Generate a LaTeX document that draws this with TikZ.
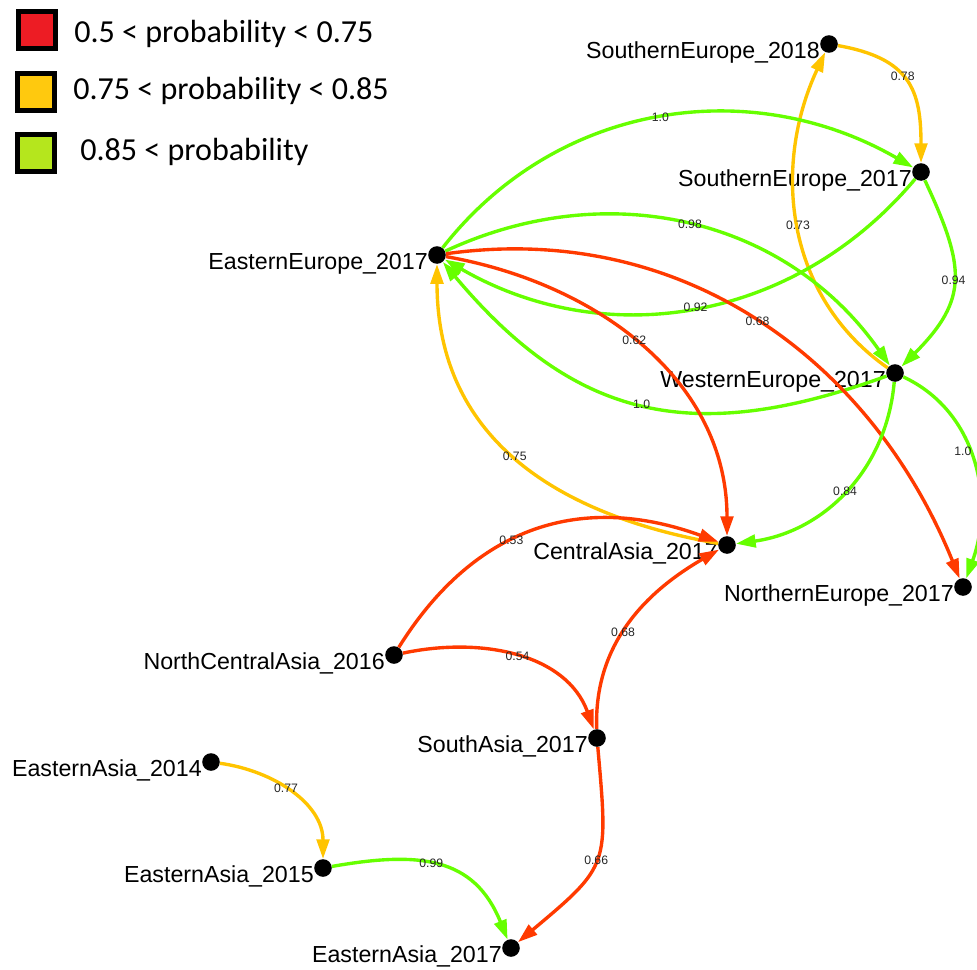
\documentclass[tikz,border=0pt]{standalone}
\usepackage{fontspec}
\setmainfont{Liberation Sans}
\newfontfamily\legendfont{Carlito}
\usetikzlibrary{arrows.meta}

\definecolor{legred}{HTML}{ED1C24}
\definecolor{legyellow}{HTML}{FFC90E}
\definecolor{leggreen}{HTML}{B5E61D}
\definecolor{linkred}{HTML}{FF3A00}
\definecolor{linkyellow}{HTML}{FFC400}
\definecolor{linkgreen}{HTML}{66FF00}

\begin{document}
\begin{tikzpicture}[x=0.025cm, y=-0.025cm,
    region/.style={circle, fill=black, inner sep=0pt, minimum size=12.5pt},
    tag/.style={anchor=base east, inner sep=0pt, font=\fontsize{16.5}{18}\selectfont},
    link/.style={line width=2.4pt, -{Triangle[length=14pt, width=9pt]}},
    prob/.style={inner sep=0pt, font=\fontsize{8.7}{9}\selectfont, text=black!85},
    keybox/.style={draw=black, line width=0.14cm, minimum size=0.925cm, inner sep=0pt},
    keytext/.style={anchor=base west, inner sep=0pt, font=\legendfont\fontsize{22.8}{26}\selectfont}]
                    \useasboundingbox (0,0) rectangle (977,969);
                    \clip (0,0) rectangle (977,969);
                    % Legend
                    \node[keybox, fill=legred] (key1) at (37,30) {};
                    \node[keybox, fill=legyellow] (key2) at (36,92) {};
                    \node[keybox, fill=leggreen] (key3) at (36,153) {};
                    \node[keytext] (key1-t) at (74,42) {0.5 < probability < 0.75};
                    \node[keytext] (key2-t) at (73,99) {0.75 < probability < 0.85};
                    \node[keytext] (key3-t) at (80,160) {0.85 < probability};
                    % Regions
                    \node[region] (se18) at (829,44) {};
                    \node[region] (se17) at (921,172) {};
                    \node[region] (ee17) at (437,255) {};
                    \node[region] (we17) at (895,373) {};
                    \node[region] (ca17) at (727,545) {};
                    \node[region] (ne17) at (963,587) {};
                    \node[region] (nca16) at (394,655) {};
                    \node[region] (sa17) at (597,738) {};
                    \node[region] (ea14) at (211,762) {};
                    \node[region] (ea15) at (323,868) {};
                    \node[region] (ea17) at (511,948) {};
                    % Region names
                    \node[tag] (se18-t) at ([shift={(-9,14)}]se18.center) {SouthernEurope\_2018};
                    \node[tag] (se17-t) at ([shift={(-9,14)}]se17.center) {SouthernEurope\_2017};
                    \node[tag] (ee17-t) at ([shift={(-9,14)}]ee17.center) {EasternEurope\_2017};
                    \node[tag] (we17-t) at ([shift={(-9,14)}]we17.center) {WesternEurope\_2017};
                    \node[tag] (ca17-t) at ([shift={(-9,14)}]ca17.center) {CentralAsia\_2017};
                    \node[tag] (ne17-t) at ([shift={(-9,14)}]ne17.center) {NorthernEurope\_2017};
                    \node[tag] (nca16-t) at ([shift={(-9,14)}]nca16.center) {NorthCentralAsia\_2016};
                    \node[tag] (sa17-t) at ([shift={(-9,14)}]sa17.center) {SouthAsia\_2017};
                    \node[tag] (ea14-t) at ([shift={(-9,14)}]ea14.center) {EasternAsia\_2014};
                    \node[tag] (ea15-t) at ([shift={(-9,14)}]ea15.center) {EasternAsia\_2015};
                    \node[tag] (ea17-t) at ([shift={(-9,14)}]ea17.center) {EasternAsia\_2017};
                    % Europe links
                    \draw[link, linkyellow] (se18) to[out=-10, in=90, looseness=1.3] node[prob, pos=0.45] {0.78} (se17);
                    \draw[link, linkyellow] (we17) to[out=145, in=-115] node[prob] {0.73} (se18);
                    \draw[link, linkgreen] (ee17) to[out=52, in=150] node[prob] {1.0} (se17);
                    \draw[link, linkgreen] (se17) to[out=-130, in=-30] node[prob] {0.92} (ee17);
                    \draw[link, linkgreen] (ee17) to[out=25, in=125] node[prob] {0.98} (we17);
                    \draw[link, linkgreen] (se17) to[out=-65, in=45, looseness=1.3] node[prob] {0.94} (we17);
                    \draw[link, linkgreen] (we17) to[out=200, in=-50, looseness=1.15] node[prob] {1.0} (ee17);
                    \draw[link, linkgreen] (we17) to[out=-25, in=70] node[prob, pos=0.45, xshift=-5pt] {1.0} (ne17);
                    \draw[link, linkred] (ee17) to[out=8, in=112] node[prob] {0.68} (ne17);
                    % Links into Central Asia
                    \draw[link, linkred] (ee17) to[out=-10, in=90] node[prob, pos=0.47] {0.62} (ca17);
                    \draw[link, linkyellow] (ca17) to[out=170, in=-90, looseness=1.1] node[prob] {0.75} (ee17);
                    \draw[link, linkgreen] (we17) to[out=-95, in=8] node[prob] {0.84} (ca17);
                    \draw[link, linkred] (nca16) to[out=58, in=160, looseness=1.1] node[prob, pos=0.42] {0.53} (ca17);
                    \draw[link, linkred] (sa17) to[out=92, in=-150] node[prob, pos=0.45] {0.68} (ca17);
                    % Asia links
                    \draw[link, linkred] (nca16) to[out=12, in=110] node[prob] {0.54} (sa17);
                    \draw[link, linkred] (sa17) to[out=-85, in=40, looseness=1.45] node[prob] {0.66} (ea17);
                    \draw[link, linkyellow] (ea14) to[out=-8, in=90] node[prob, pos=0.45] {0.77} (ea15);
                    \draw[link, linkgreen] (ea15) to[out=10, in=112, looseness=1.2] node[prob, pos=0.45] {0.99} (ea17);
                \end{tikzpicture}
\end{document}
